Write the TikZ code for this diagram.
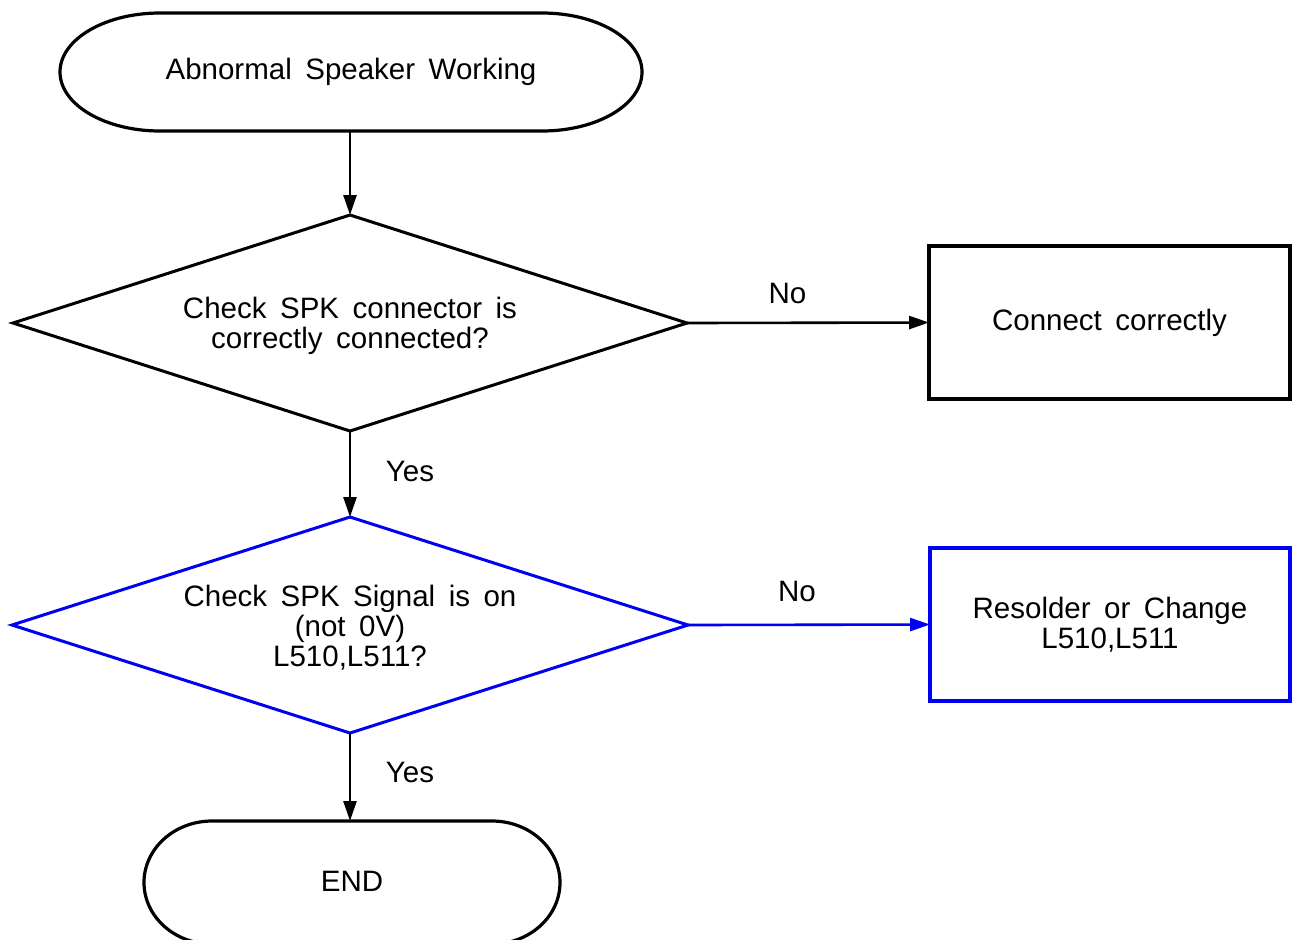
\documentclass[tikz,border=0pt]{standalone}
\usepackage{fontspec}
\setmainfont{Liberation Sans}[WordSpace=1.65]
\usetikzlibrary{shapes.geometric,arrows.meta}
\definecolor{flowblue}{RGB}{0,0,245}
\begin{document}
\begin{tikzpicture}[x=0.5pt,y=-0.5pt,
  every node/.style={font=\fontsize{14.75pt}{15pt}\selectfont, inner sep=0pt, outer sep=0pt},
  decision/.style={draw, shape=diamond, shape aspect=3.1, line width=1.5pt, align=center,
    minimum height=108pt},
  actbox/.style={draw, line width=2pt, align=center, minimum width=180.5pt, minimum height=76.5pt},
  termline/.style={line width=1.6pt},
  conn/.style={line width=1.3pt, -{Triangle[length=10pt,width=6.5pt]}},
  lbl/.style={text=black}]
\useasboundingbox (0,0) rectangle (1293,939);
\fill[white] (0,0) rectangle (1293,939);
\clip (0,0) rectangle (1293,939);

% start terminal
\node (start) at (351,72) [minimum width=291pt, minimum height=59pt] {Abnormal Speaker Working};
\draw[termline] (160,13) -- (542,13)
  arc[start angle=90,end angle=-90,x radius=50pt,y radius=29.5pt] -- (160,131)
  arc[start angle=270,end angle=90,x radius=50pt,y radius=29.5pt] -- cycle;

% decisions
\node[decision, minimum width=337pt] (d1) at (350,323) {\rule{0pt}{13.8pt}Check SPK connector is\\correctly connected?};
\node[decision, draw=flowblue, minimum width=338pt] (d2) at (350,625) {\rule{0pt}{13.8pt}Check SPK Signal is on\\(not 0V)\\L510,L511?};

% action boxes
\node[actbox] (b1) at (1109.5,322.5) {Connect correctly};
\node[actbox, draw=flowblue, minimum width=180pt] (b2) at (1110,624.5) {Resolder or Change\\L510,L511};

% end terminal
\node (end) at (352,881) [minimum width=208pt, minimum height=60pt] {END};
\draw[termline] (212,821) -- (492,821)
  arc[start angle=90,end angle=-90,x radius=34pt,y radius=30.75pt] -- (212,944)
  arc[start angle=270,end angle=90,x radius=34pt,y radius=30.75pt] -- cycle;

% connectors
\draw[conn] (d1.north |- start.south) -- (d1.north);
\draw[conn] (d1.east) -- node[lbl, pos=0.415, yshift=14.5pt] {No} (b1.west);
\draw[conn] (d1.south) -- node[lbl, pos=0.465, xshift=30pt] {Yes} (d2.north);
\draw[conn, draw=flowblue, fill=flowblue] (d2.east) -- node[lbl, pos=0.45, yshift=16.5pt] {No} (b2.west);
\draw[conn] (d2.south) -- node[lbl, pos=0.45, xshift=30pt] {Yes} (d2.south |- end.north);
\end{tikzpicture}
\end{document}
